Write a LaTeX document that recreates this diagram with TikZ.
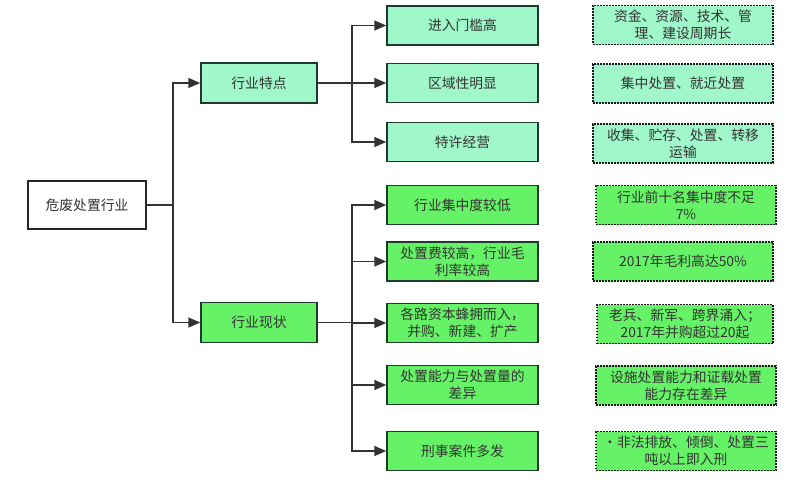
\documentclass[tikz,border=0pt]{standalone}
\usepackage{fontspec}
\setmainfont{Noto Sans CJK SC}
\usetikzlibrary{arrows.meta}
\definecolor{mint}{HTML}{A0F7C9}
\definecolor{lime}{HTML}{66F266}
\definecolor{edge}{HTML}{1E3A2A}
\definecolor{ink}{HTML}{333333}
\tikzset{
  box/.style={draw=edge, line width=1.5pt, text=ink, align=center, inner sep=1pt, font=\fontsize{13.8}{17}\selectfont},
  rootbox/.style={box, draw=black!85, fill=white, minimum width=118pt, minimum height=48pt},
  midbox/.style={box, minimum width=116pt, minimum height=40pt},
  itembox/.style={box, minimum width=151pt, minimum height=39pt},
  notebox/.style={box, draw=black!90, line width=1.7pt, dash pattern=on 1.7pt off 1.3pt, minimum width=180pt, minimum height=39pt},
  arr/.style={draw=ink, line width=1.6pt, -{Triangle[length=12pt,width=10pt]}},
  trunk/.style={draw=ink, line width=1.6pt},
}
\begin{document}
\begin{tikzpicture}[x=1pt,y=-1pt]
\useasboundingbox (0,0) rectangle (800,482);
\node[rootbox] (root) at (87,205) {危废处置行业};
\node[midbox, fill=mint] (m1) at (259,83) {行业特点};
\node[midbox, fill=lime] (m2) at (259,322.5) {行业现状};

\node[itembox, fill=mint] (a1) at (462.5,25.5) {进入门槛高};
\node[itembox, fill=mint] (a2) at (462.5,83) {区域性明显};
\node[itembox, fill=mint] (a3) at (462.5,142) {特许经营};
\node[itembox, fill=lime] (b1) at (462.5,205) {行业集中度较低};
\node[itembox, fill=lime] (b2) at (462.5,261.5) {处置费较高，行业毛\\利率较高};
\node[itembox, fill=lime] (b3) at (462.5,323) {各路资本蜂拥而入，\\并购、新建、扩产};
\node[itembox, fill=lime] (b4) at (462.5,385) {处置能力与处置量的\\差异};
\node[itembox, fill=lime] (b5) at (462.5,451) {刑事案件多发};

\node[notebox, fill=mint] (n1) at (683,25) {资金、资源、技术、管\\理、建设周期长};
\node[notebox, fill=mint] (n2) at (683,83.5) {集中处置、就近处置};
\node[notebox, fill=mint] (n3) at (683,143.5) {收集、贮存、处置、转移\\运输};
\node[notebox, fill=lime] (n4) at (686,205) {行业前十名集中度不足\\7\%};
\node[notebox, fill=lime] (n5) at (683,261.5) {2017年毛利高达50\%};
\node[notebox, fill=lime, minimum width=176pt] (n6) at (685,324) {老兵、新军、跨界涌入；\\2017年并购超过20起};
\node[notebox, fill=lime] (n7) at (686,385.5) {设施处置能力和证载处置\\能力存在差异};
\node[notebox, fill=lime] (n8) at (686,451) {·非法排放、倾倒、处置三\\吨以上即入刑};

\coordinate (t0) at (173,205);
\draw[trunk] (root.east) -- (t0);
\draw[arr] (t0) |- (m1.west);
\draw[arr] (t0) |- (m2.west);

\coordinate (t1) at (352,83);
\draw[trunk] (m1.east) -- (t1);
\draw[arr] (t1) |- (a1.west);
\draw[arr] (t1) -- (a2.west);
\draw[arr] (t1) |- (a3.west);

\coordinate (t2) at (352,322.5);
\draw[trunk] (m2.east) -- (t2);
\draw[arr] (t2) |- (b1.west);
\draw[arr] (t2) |- (b2.west);
\draw[arr] (t2) |- (b3.west);
\draw[arr] (t2) |- (b4.west);
\draw[arr] (t2) |- (b5.west);
\end{tikzpicture}
\end{document}
